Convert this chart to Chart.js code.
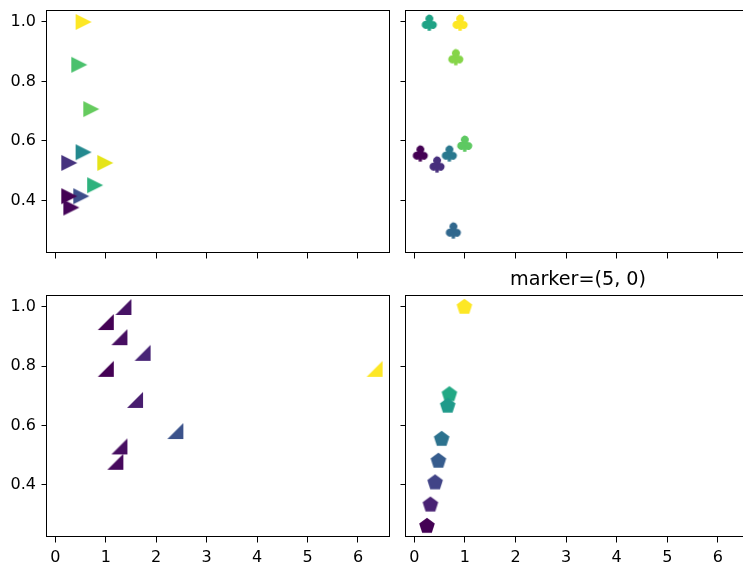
<!DOCTYPE html>
<html lang="en">
<head>
<meta charset="UTF-8">
<title>Scatter markers</title>
<script src="https://cdn.jsdelivr.net/npm/chart.js"></script>
<style>
  html, body { margin: 0; padding: 0; overflow: hidden; background: #fff; }
  body { width: 743px; height: 568px; position: relative; }
  canvas { position: absolute; }
</style>
</head>
<body>
<canvas id="tl" width="400" height="262" style="left:0px;top:0px"></canvas>
<canvas id="tr" width="400" height="262" style="left:360px;top:0px"></canvas>
<canvas id="bl" width="400" height="300" style="left:0px;top:268px"></canvas>
<canvas id="br" width="400" height="300" style="left:360px;top:268px"></canvas>

<script>
// shared axes
const xTicks = [0, 1, 2, 3, 4, 5, 6];
const yTicks = [0.4, 0.6, 0.8, 1.0];

// top left: '>' triangles
const triX = [0.56, 0.475, 0.713, 0.56, 0.277, 0.99, 0.79, 0.515, 0.277, 0.317];
const triY = [1.0, 0.856, 0.707, 0.562, 0.526, 0.526, 0.451, 0.414, 0.414, 0.376];
const triColors = ['#fde725', '#4ac16d', '#65cb5e', '#23898e', '#46337e', '#e5e419', '#2db27d', '#3d4e8a', '#440154', '#450559'];

// top right: club suit
const clubX = [0.297, 0.905, 0.82, 0.997, 0.119, 0.45, 0.693, 0.772];
const clubY = [1.0, 1.0, 0.884, 0.593, 0.56, 0.523, 0.56, 0.301];
const clubColors = ['#20a386', '#fde725', '#86d549', '#5ec962', '#440154', '#472f7d', '#2a788e', '#31688e'];

// bottom left: custom right-angle triangles
const rtX = [1.35, 1.0, 1.27, 1.73, 1.0, 1.58, 2.38, 1.27, 1.19, 6.33];
const rtY = [1.0, 0.949, 0.898, 0.845, 0.791, 0.686, 0.581, 0.529, 0.477, 0.791];
const rtColors = ['#471365', '#440154', '#470e61', '#482576', '#440154', '#481d6f', '#3b528b', '#470e61', '#46085c', '#fde725'];

// bottom right: pentagons, marker=(5, 0)
const pentX = [0.99, 0.693, 0.66, 0.54, 0.475, 0.41, 0.317, 0.25];
const pentY = [1.0, 0.705, 0.666, 0.554, 0.48, 0.407, 0.332, 0.26];
const pentColors = ['#fde725', '#22a884', '#1f9a8a', '#2c728e', '#365c8d', '#414487', '#482173', '#440154'];

const FONT = 'DejaVu Sans';

function markerCanvas(size, draw) {
    const c = document.createElement('canvas');
    c.width = size;
    c.height = size;
    draw(c.getContext('2d'), size);
    return c;
}

function polygon(ctx, pts, color) {
    ctx.beginPath();
    ctx.moveTo(pts[0][0], pts[0][1]);
    for (let i = 1; i < pts.length; i++) ctx.lineTo(pts[i][0], pts[i][1]);
    ctx.closePath();
    ctx.fillStyle = color;
    ctx.fill();
}

const shapes = {
    triRight: color => markerCanvas(18, ctx => polygon(ctx, [[1, 1], [17, 9], [1, 17]], color)),
    rightAngle: color => markerCanvas(18, ctx => polygon(ctx, [[1, 17], [17, 17], [17, 1]], color)),
    pentagon: color => markerCanvas(18, ctx => {
        const pts = [];
        for (let k = 0; k < 5; k++) {
            const a = (-90 + k * 72) * Math.PI / 180;
            pts.push([9 + 8.2 * Math.cos(a), 9 + 8.2 * Math.sin(a)]);
        }
        polygon(ctx, pts, color);
    }),
    club: color => markerCanvas(22, ctx => {
        ctx.font = '40px "' + FONT + '"';
        const m = ctx.measureText('\u2663');
        const bw = m.actualBoundingBoxLeft + m.actualBoundingBoxRight;
        const bh = m.actualBoundingBoxAscent + m.actualBoundingBoxDescent;
        const s = 15 / Math.max(bw, bh);
        ctx.translate(11, 11);
        ctx.scale(s, s);
        ctx.fillStyle = color;
        ctx.strokeStyle = color;
        ctx.lineWidth = 1.6 / s;
        ctx.lineJoin = 'round';
        const tx = (m.actualBoundingBoxLeft - m.actualBoundingBoxRight) / 2;
        const ty = (m.actualBoundingBoxAscent - m.actualBoundingBoxDescent) / 2;
        ctx.fillText('\u2663', tx, ty);
        ctx.strokeText('\u2663', tx, ty);
    })
};

// draws the full axes box like matplotlib spines
const framePlugin = {
    id: 'frame',
    afterDraw(chart) {
        const a = chart.chartArea;
        const ctx = chart.ctx;
        ctx.save();
        ctx.strokeStyle = '#000';
        ctx.lineWidth = 1;
        const l = Math.round(a.left) - 0.5, t = Math.round(a.top) - 0.5;
        const r = Math.round(a.right) - 0.5, b = Math.round(a.bottom) - 0.5;
        ctx.strokeRect(l, t, r - l, b - t);
        ctx.restore();
    }
};

function axisGrid() {
    return { drawOnChartArea: false, drawTicks: true, tickLength: 5.5, color: '#000', lineWidth: 1 };
}

function makePanel(id, xs, ys, colors, shape, cfg) {
    const styles = colors.map(c => shapes[shape](c));
    new Chart(document.getElementById(id), {
        type: 'scatter',
        data: {
            datasets: [{
                data: xs.map((x, i) => ({ x: x, y: ys[i] })),
                pointStyle: ctx => styles[ctx.dataIndex],
                pointRadius: 8,
                backgroundColor: colors,
                borderColor: colors,
                clip: false
            }]
        },
        options: {
            responsive: false,
            animation: false,
            events: [],
            layout: { padding: cfg.padding },
            plugins: {
                legend: { display: false },
                tooltip: { enabled: false },
                title: {
                    display: !!cfg.title,
                    text: cfg.title || '',
                    fullSize: false,
                    color: '#000',
                    font: { family: FONT, size: 19.2, weight: 'normal', lineHeight: 1.2 },
                    padding: { top: 0, bottom: 5 }
                }
            },
            scales: {
                x: {
                    type: 'linear',
                    min: -0.165,
                    max: 6.635,
                    afterBuildTicks: s => { s.ticks = xTicks.map(v => ({ value: v })); },
                    afterFit: s => { s.height = cfg.xh; s.paddingLeft = 0; s.paddingRight = 0; },
                    grid: axisGrid(),
                    border: { display: false },
                    ticks: {
                        display: cfg.showX,
                        padding: 5.5,
                        color: '#000',
                        maxRotation: 0,
                        autoSkip: false,
                        font: { family: FONT, size: 16 },
                        callback: v => String(v)
                    }
                },
                y: {
                    type: 'linear',
                    min: 0.223,
                    max: 1.037,
                    afterBuildTicks: s => { s.ticks = yTicks.map(v => ({ value: v })); },
                    afterFit: s => { s.width = cfg.yw; s.paddingTop = 0; s.paddingBottom = 0; },
                    grid: axisGrid(),
                    border: { display: false },
                    ticks: {
                        display: cfg.showY,
                        padding: 5.5,
                        color: '#000',
                        autoSkip: false,
                        font: { family: FONT, size: 16 },
                        callback: v => v.toFixed(1)
                    }
                }
            }
        },
        plugins: [framePlugin]
    });
}

makePanel('tl', triX, triY, triColors, 'triRight',
    { padding: { top: 11, left: 0, right: 10, bottom: 0 }, yw: 47, xh: 8, showX: false, showY: true });
makePanel('tr', clubX, clubY, clubColors, 'club',
    { padding: { top: 11, left: 0, right: 10, bottom: 0 }, yw: 46, xh: 8, showX: false, showY: false });
makePanel('bl', rtX, rtY, rtColors, 'rightAngle',
    { padding: { top: 28, left: 0, right: 10, bottom: 0 }, yw: 47, xh: 31, showX: true, showY: true });
makePanel('br', pentX, pentY, pentColors, 'pentagon',
    { padding: { top: 0, left: 0, right: 10, bottom: 0 }, yw: 46, xh: 31, showX: true, showY: false, title: 'marker=(5, 0)' });
</script>
</body>
</html>
